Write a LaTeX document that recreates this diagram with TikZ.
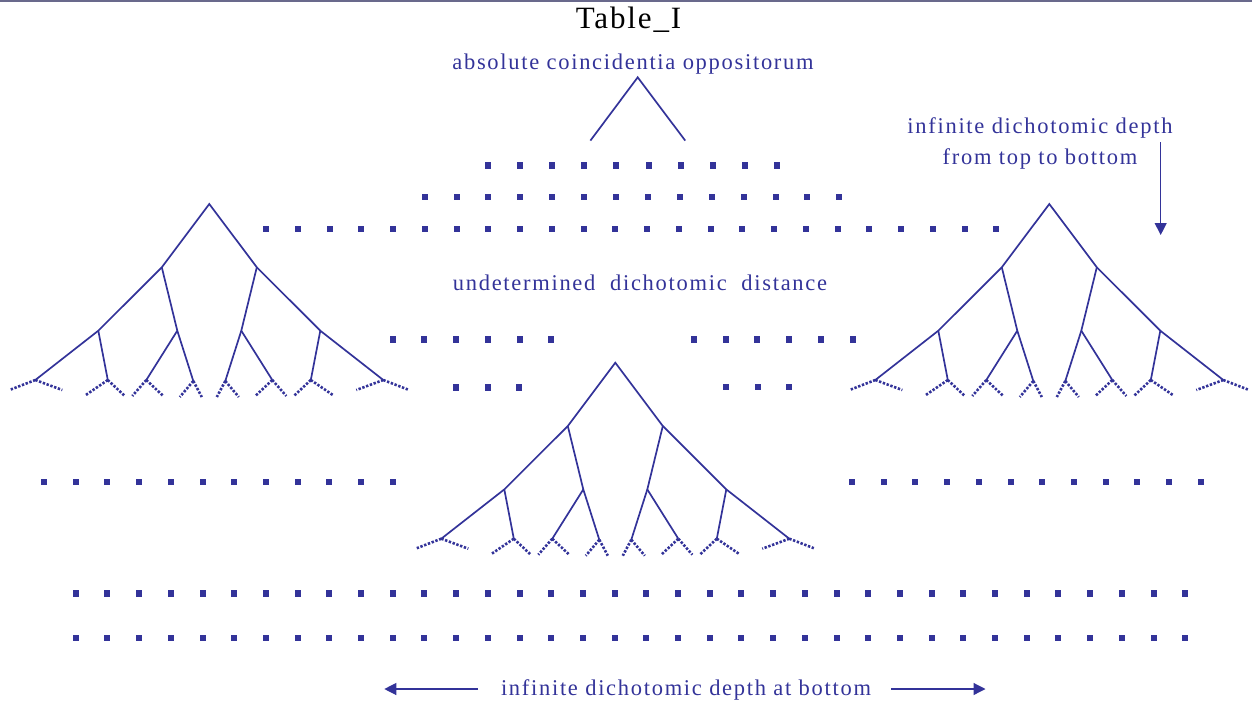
\documentclass[tikz,border=0pt]{standalone}
\usepackage{fontspec}
\setmainfont{Liberation Serif}
\newfontfamily\spacedfont[LetterSpace=7.6]{Liberation Serif}
\newfontfamily\titlefont[LetterSpace=6]{Liberation Serif}
\usetikzlibrary{arrows.meta}
\definecolor{inkblue}{RGB}{51,51,153}
\definecolor{rulegray}{RGB}{105,105,140}
\tikzset{
    branch/.style={draw=inkblue, line width=1.7pt},
    twig/.style={draw=inkblue, line width=2.6pt, dash pattern=on 2.4pt off 1.6pt},
    sqdot/.style={fill=inkblue, minimum width=6pt, minimum height=6.5pt, inner sep=0pt},
    bluetext/.style={text=inkblue, font=\spacedfont\fontsize{22.5}{31}\selectfont, anchor=base},
    pointer/.style={draw=inkblue, line width=1.2pt, -{Triangle[width=12pt,length=12pt]}},
    pics/dtree/.style={code={
        \coordinate (-t) at (0,0);
        \coordinate (-l) at (-47.5,63.3);
        \coordinate (-r) at (47.5,63.3);
        \coordinate (-ll) at (-111,126.7);
        \coordinate (-lr) at (-32,126.7);
        \coordinate (-rl) at (32,126.7);
        \coordinate (-rr) at (111,126.7);
        \coordinate (-lll) at (-174,176);
        \coordinate (-llr) at (-101.5,176);
        \coordinate (-lrl) at (-63,176);
        \coordinate (-lrr) at (-16,177);
        \coordinate (-rll) at (16,177);
        \coordinate (-rlr) at (63,176);
        \coordinate (-rrl) at (101.5,176);
        \coordinate (-rrr) at (174,176);
        \draw[branch] (-lll) -- (-ll) -- (-l) -- (-t) -- (-r) -- (-rr) -- (-rrr);
        \draw[branch] (-ll) -- (-llr);
        \draw[branch] (-l) -- (-lr) -- (-lrr);
        \draw[branch] (-lr) -- (-lrl);
        \draw[branch] (-r) -- (-rl) -- (-rll);
        \draw[branch] (-rl) -- (-rlr);
        \draw[branch] (-rr) -- (-rrl);
        % dotted ends below each leaf
        \foreach \n/\a/\b/\c/\d in {lll/-24.5/9.5/27/10, llr/-22/15/17/16,
                lrl/-14/16/17/16, lrr/-13.5/16/8.5/16, rll/-8.5/16/13.5/16,
                rlr/-17/16/14/16, rrl/-17/16/22/15, rrr/-27/10/24.5/9.5}
            \draw[twig] (-\n) -- ++(\a,\b) (-\n) -- ++(\c,\d);
    }}
}
\begin{document}
\begin{tikzpicture}[x=1pt, y=-1pt]
    \useasboundingbox (0,0) rectangle (1252,702);
    \draw[rulegray, line width=1.5pt] (0,1) -- (1252,1);

    \node[anchor=base, font=\titlefont\fontsize{31}{36}\selectfont] (title) at (628.5,28.7) {Table\_I};
    \node[bluetext] (apextext) at (633,69.3) {absolute coincidentia oppositorum};
    \node[bluetext] (midtext) at (640,290.7) {undetermined\ \ dichotomic\ \ distance};
    \node[bluetext, align=center] (depthtext) at (1040,164.3) {infinite dichotomic depth\\from top to bottom};
    \node[bluetext] (bottomtext) at (686,695) {infinite dichotomic depth at bottom};

    % top of the coincidence tree
    \coordinate (top) at (637.7,77.3);
    \coordinate (topl) at (590.4,140.6);
    \coordinate (topr) at (685.2,140.6);
    \draw[branch] (topl) -- (top) -- (topr);

    \pic (lefttree) at (209.3,204) {dtree};
    \pic (midtree) at (615.3,362.7) {dtree};
    \pic (righttree) at (1049.3,204) {dtree};

    % rows of points
    \foreach \i in {0,...,9}
        \node[sqdot] (ra-\i) at (487.5+32.2*\i,165.5) {};
    \foreach \i in {0,...,13}
        \node[sqdot] (rb-\i) at (424.6+31.9*\i,197) {};
    \foreach \i in {0,...,23}
        \node[sqdot] (rc-\i) at (266+31.75*\i,229) {};
    \foreach \i in {0,...,5} {
        \node[sqdot] (rdl-\i) at (392.7+31.7*\i,339.7) {};
        \node[sqdot] (rdr-\i) at (694+31.7*\i,339.7) {};
    }
    \foreach \i in {0,...,2} {
        \node[sqdot] (rel-\i) at (456+31.7*\i,387.5) {};
        \node[sqdot] (rer-\i) at (726+31.7*\i,387) {};
    }
    \foreach \i in {0,...,11} {
        \node[sqdot] (rfl-\i) at (44+31.7*\i,482) {};
        \node[sqdot] (rfr-\i) at (852+31.7*\i,482) {};
    }
    \foreach \i in {0,...,35} {
        \node[sqdot] (rg-\i) at (75.7+31.7*\i,593.5) {};
        \node[sqdot] (rh-\i) at (75.7+31.7*\i,638) {};
    }

    % arrows
    \coordinate (downfrom) at (1160.7,142);
    \coordinate (downto) at (1160.7,235);
    \draw[pointer] (downfrom) -- (downto);
    \coordinate (leftfrom) at (478,689);
    \coordinate (leftto) at (384.3,689);
    \draw[pointer] (leftfrom) -- (leftto);
    \coordinate (rightfrom) at (891,689);
    \coordinate (rightto) at (985.5,689);
    \draw[pointer] (rightfrom) -- (rightto);
\end{tikzpicture}
\end{document}
